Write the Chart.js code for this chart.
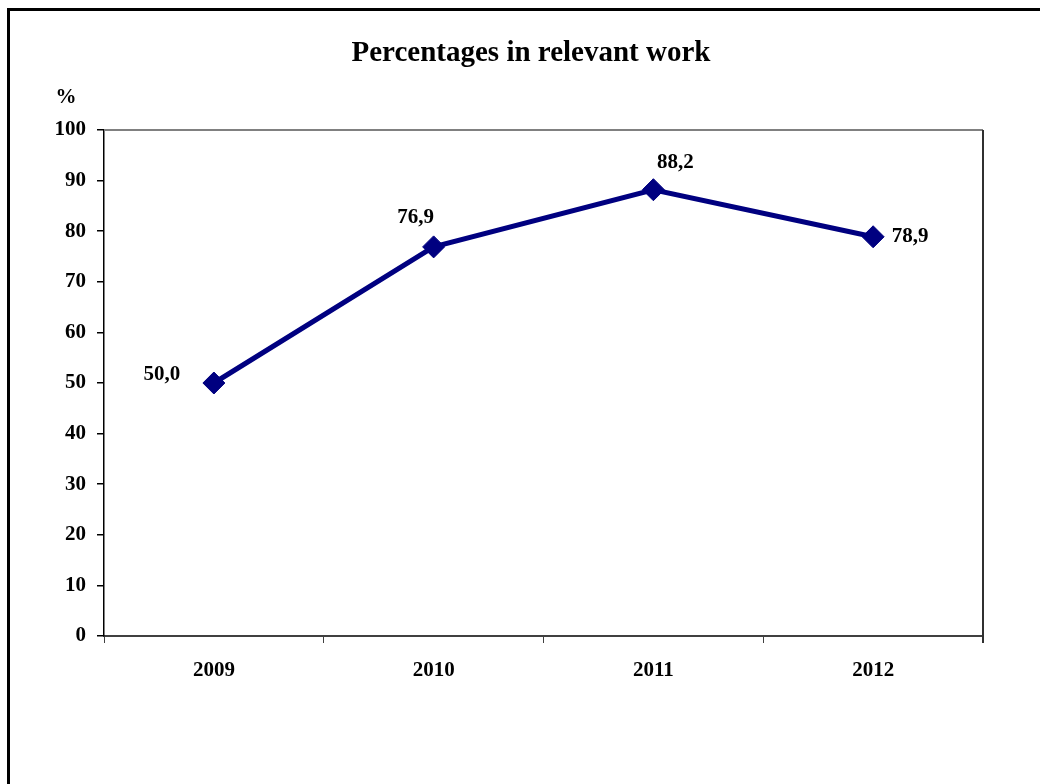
<!DOCTYPE html>
<html>
<head>
<meta charset="utf-8">
<script src="https://cdn.jsdelivr.net/npm/chart.js@4/dist/chart.umd.min.js"></script>
<style>
  body { margin: 0; background: #fff; }
  canvas { display: block; }
</style>
</head>
<body>
<canvas id="myChart" width="1040" height="784"></canvas>
<script>
var years = ["2009", "2010", "2011", "2012"];
var values = [50.0, 76.9, 88.2, 78.9];
var yMin = 0, yMax = 100, yStep = 10;

var serif = '"Liberation Serif", "Times New Roman", Times, serif';

// where each value label sits relative to its point
var labelOffsets = [[-52, -8], [-18, -29], [22, -27], [37, 0]];

var decor = {
    id: 'decor',
    beforeDraw: function (chart) {
        var ctx = chart.ctx;
        ctx.save();
        ctx.fillStyle = '#fff';
        ctx.fillRect(0, 0, chart.width, chart.height);
        ctx.restore();
    },
    afterDraw: function (chart) {
        var ctx = chart.ctx;
        var a = chart.chartArea;
        ctx.save();
        // outer frame
        ctx.strokeStyle = '#000';
        ctx.lineWidth = 3;
        ctx.beginPath();
        ctx.moveTo(8.5, chart.height);
        ctx.lineTo(8.5, 9.5);
        ctx.lineTo(chart.width, 9.5);
        ctx.stroke();
        // plot area top / right
        ctx.lineWidth = 2;
        ctx.strokeStyle = '#808080';
        ctx.beginPath();
        ctx.moveTo(a.left, a.top);
        ctx.lineTo(a.right, a.top);
        ctx.stroke();
        ctx.strokeStyle = '#303030';
        ctx.beginPath();
        ctx.moveTo(a.right, a.top);
        ctx.lineTo(a.right, a.bottom + 7);
        ctx.stroke();

        ctx.fillStyle = '#000';
        ctx.textAlign = 'center';
        ctx.textBaseline = 'middle';
        ctx.font = 'bold 29px ' + serif;
        ctx.fillText('Percentages in relevant work', 531, 54);
        ctx.font = 'bold 21px ' + serif;
        ctx.fillText('%', 66, 98);

        var meta = chart.getDatasetMeta(0);
        meta.data.forEach(function (pt, i) {
            var txt = values[i].toFixed(1).replace('.', ',');
            ctx.fillText(txt, pt.x + labelOffsets[i][0], pt.y + labelOffsets[i][1]);
        });
        ctx.restore();
    }
};

new Chart("myChart", {
    type: "line",
    data: {
        labels: years,
        datasets: [{
            data: values,
            borderColor: "#000080",
            borderWidth: 5,
            tension: 0,
            fill: false,
            pointStyle: "rectRot",
            pointRadius: 11,
            pointBackgroundColor: "#000080",
            pointBorderColor: "#000080",
            pointBorderWidth: 1
        }]
    },
    options: {
        responsive: false,
        animation: false,
        layout: { padding: { top: 130, right: 57, bottom: 0, left: 0 } },
        plugins: {
            legend: { display: false },
            tooltip: { enabled: false }
        },
        scales: {
            x: {
                offset: true,
                afterFit: function (s) { s.height = 148; },
                border: { color: "#404040", width: 2 },
                grid: { offset: true, drawOnChartArea: false, tickLength: 7, color: "#404040", lineWidth: 1 },
                ticks: { padding: 15, color: "#000", font: { family: serif, size: 21, weight: "bold" } }
            },
            y: {
                min: yMin,
                max: yMax,
                afterFit: function (s) { s.width = 104; },
                border: { color: "#000", width: 1.5 },
                grid: { drawOnChartArea: false, tickLength: 7, color: "#000", lineWidth: 1.5 },
                ticks: { stepSize: yStep, padding: 11, color: "#000", font: { family: serif, size: 21, weight: "bold" } }
            }
        }
    },
    plugins: [decor]
});
</script>
</body>
</html>
